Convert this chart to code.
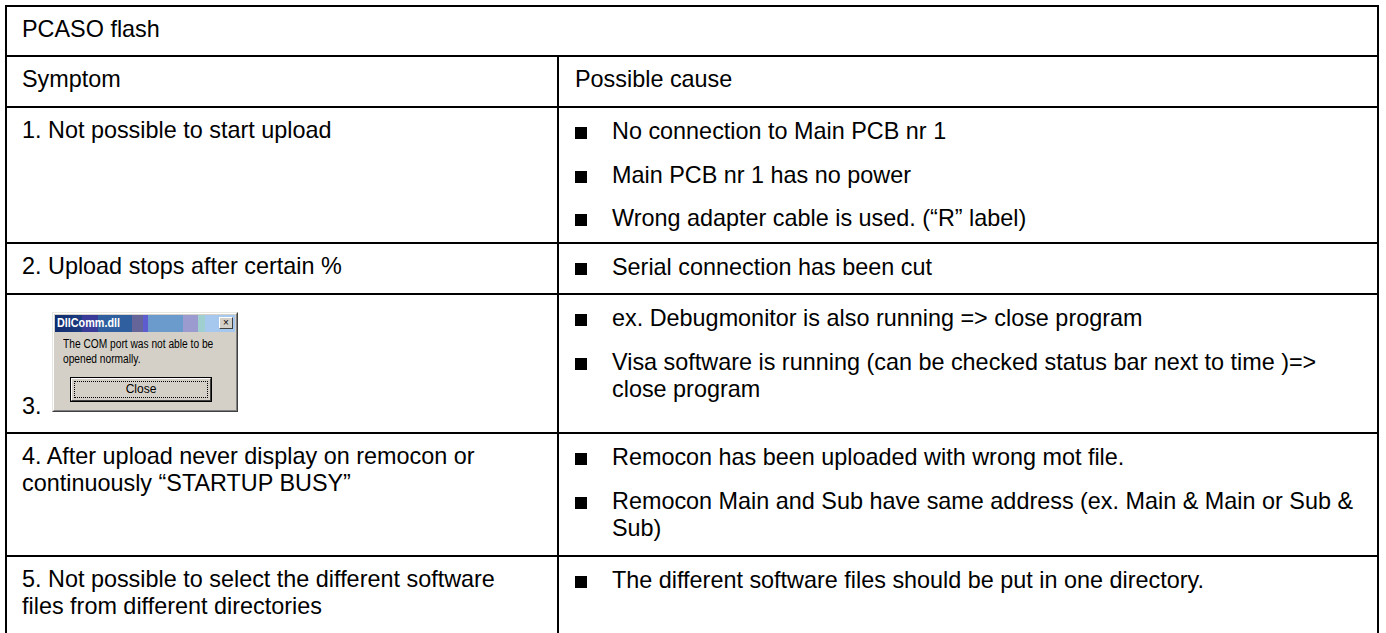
<!DOCTYPE html>
<html>
<head>
<meta charset="utf-8">
<script src="https://cdn.jsdelivr.net/npm/chart.js@4.4.1/dist/chart.umd.min.js"></script>
<style>
  html, body { margin: 0; padding: 0; background: #fff; }
  body { width: 1386px; height: 633px; overflow: hidden; position: relative;
         font-family: "Liberation Sans", Arial, Helvetica, sans-serif; color: #000; }
  .hl { position: absolute; height: 2px; background: #000; }
  .vl { position: absolute; width: 2px; background: #000; }
  .cell { position: absolute; font-size: 23.4px; line-height: 27px; }
  .bul { display: flex; margin-bottom: 16.5px; }
  .bul:last-child { margin-bottom: 0; }
  .sq { flex: 0 0 37px; position: relative; }
  .sq::before { content: ""; position: absolute; left: 0; top: 9px; width: 12px; height: 12px; background: #000; }
  .txt { flex: 1 1 auto; }
  /* Win classic dialog */
  .dlg { position: absolute; width: 186px; height: 100px; background: #d4d0c8;
         box-sizing: border-box; border: 1px solid; border-color: #e8e6e0 #404040 #404040 #e8e6e0;
         font-family: "Liberation Sans", Arial, sans-serif; }
  .dlg .in { position: absolute; inset: 0; border: 1px solid; border-color: #fff #808080 #808080 #fff; }
  .dlg .tb { position: absolute; left: 2px; top: 2px; right: 2px; height: 17px;
    background: linear-gradient(to right,
      #0f2d6e 0%, #1c3c80 14.8%, #3a3a98 14.8%, #3a3a98 24%, #2f5f9f 24%, #2f5f9f 42.6%,
      #65659a 42.6%, #65659a 49%, #5d5dd0 49%, #5d5dd0 51.8%, #6b9bcd 51.8%, #6b9bcd 71.3%,
      #9b9bcf 71.3%, #9b9bcf 79.6%, #9fd0cf 79.6%, #9fd0cf 83.3%, #a6c8ee 83.3%, #a6c8ee 100%); }
  .dlg .tt { position: absolute; left: 2px; top: 1px; color: #fff; font-weight: bold; font-size: 12px; line-height: 15px;
             transform: scaleX(0.9); transform-origin: left center; }
  .dlg .xb { position: absolute; right: 2px; top: 2px; width: 14px; height: 12px; background: #d4d0c8;
             box-sizing: border-box; border: 1px solid; border-color: #fff #404040 #404040 #fff;
             font-size: 10px; line-height: 9px; text-align: center; color: #000; }
  .dlg .msg { position: absolute; left: 10px; top: 24px; font-size: 12px; line-height: 15px; color: #000;
              white-space: nowrap; transform: scaleX(0.85); transform-origin: left top; }
  .dlg .btn { position: absolute; left: 17px; top: 64px; width: 142px; height: 25px; box-sizing: border-box;
              border: 1px solid #000; background: #d4d0c8; }
  .dlg .btn .b2 { position: absolute; inset: 0; border: 1px solid; border-color: #fff #404040 #404040 #fff; }
  .dlg .btn .b3 { position: absolute; left: 3px; top: 3px; right: 3px; bottom: 3px; border: 1px dotted #000;
                  font-size: 12px; line-height: 15px; text-align: center; }
</style>
</head>
<body>
<script>
// ---- content (data) ----
const tableTitle = "PCASO flash";
const headers = ["Symptom", "Possible cause"];
const symptoms = [
  "1. Not possible to start upload",
  "2. Upload stops after certain %",
  "3.",
  "4. After upload never display on remocon or continuously \u201CSTARTUP BUSY\u201D",
  "5. Not possible to select the different software files from different directories"
];
const causes1 = ["No connection to Main PCB nr 1", "Main PCB nr 1 has no power", "Wrong adapter cable is used. (\u201CR\u201D label)"];
const causes2 = ["Serial connection has been cut"];
const causes3 = ["ex. Debugmonitor is also running => close program",
                 "Visa software is running (can be checked status bar next to time )=> close program"];
const causes4 = ["Remocon has been uploaded with wrong mot file.",
                 "Remocon Main and Sub have same address (ex. Main & Main or Sub & Sub)"];
const causes5 = ["The different software files should be put in one directory."];
const dialogTitle = "DllComm.dll";
const dialogMessage = ["The COM port was not able to be", "opened normally."];
const dialogButton = "Close";

// ---- layout ----
const causes = [causes1, causes2, causes3, causes4, causes5];
const X0 = 6, XD = 558, X1 = 1378;          // grid line centres
const Y = [6, 56, 107, 243, 294, 433, 556];  // horizontal grid line centres
const YB = 700;                              // table continues past the bottom
const PADX = 16, PADT = 10;

function el(tag, cls, style, html) {
  const e = document.createElement(tag);
  if (cls) e.className = cls;
  if (style) Object.assign(e.style, style);
  if (html !== undefined) e.textContent = html;
  document.body.appendChild(e);
  return e;
}
// lines
Y.forEach(y => el('div', 'hl', {left: (X0 - 1) + 'px', top: (y - 1) + 'px', width: (X1 - X0 + 2) + 'px'}));
el('div', 'vl', {left: (X0 - 1) + 'px', top: (Y[0] - 1) + 'px', height: (YB - Y[0]) + 'px'});
el('div', 'vl', {left: (X1 - 1) + 'px', top: (Y[0] - 1) + 'px', height: (YB - Y[0]) + 'px'});
el('div', 'vl', {left: (XD - 1) + 'px', top: (Y[1] - 1) + 'px', height: (YB - Y[1]) + 'px'});

function leftCell(rowTop, text) {
  return el('div', 'cell', {left: (X0 + PADX) + 'px', top: (rowTop + PADT) + 'px', width: (XD - X0 - 2 * PADX - 8) + 'px'}, text);
}
function rightCell(rowTop) {
  return el('div', 'cell', {left: (XD + 17) + 'px', top: (rowTop + PADT + 1) + 'px', width: (X1 - XD - 17 - 15) + 'px'});
}
// title + header
el('div', 'cell', {left: (X0 + PADX) + 'px', top: (Y[0] + PADT) + 'px'}, tableTitle);
leftCell(Y[1], headers[0]);
el('div', 'cell', {left: (XD + 17) + 'px', top: (Y[1] + PADT) + 'px'}, headers[1]);

// body rows
for (let i = 0; i < symptoms.length; i++) {
  const top = Y[i + 2];
  if (i !== 2) leftCell(top, symptoms[i]);
  const rc = rightCell(top);
  causes[i].forEach(c => {
    const b = document.createElement('div'); b.className = 'bul';
    const s = document.createElement('span'); s.className = 'sq';
    const t = document.createElement('span'); t.className = 'txt'; t.textContent = c;
    b.appendChild(s); b.appendChild(t); rc.appendChild(b);
  });
}
// row 3: "3." + dialog picture
el('div', 'cell', {left: (X0 + PADX) + 'px', top: '393px'}, symptoms[2]);
const dlg = el('div', 'dlg', {left: '52px', top: '312px'});
dlg.innerHTML = '<div class="in"></div><div class="tb"><div class="tt"></div><div class="xb">×</div></div>' +
  '<div class="msg"></div><div class="btn"><div class="b2"></div><div class="b3"></div></div>';
dlg.querySelector('.tt').textContent = dialogTitle;
dlg.querySelector('.msg').innerHTML = dialogMessage.map(s => s.replace(/&/g, '&amp;')).join('<br>');
dlg.querySelector('.b3').textContent = dialogButton;
</script>
</body>
</html>
